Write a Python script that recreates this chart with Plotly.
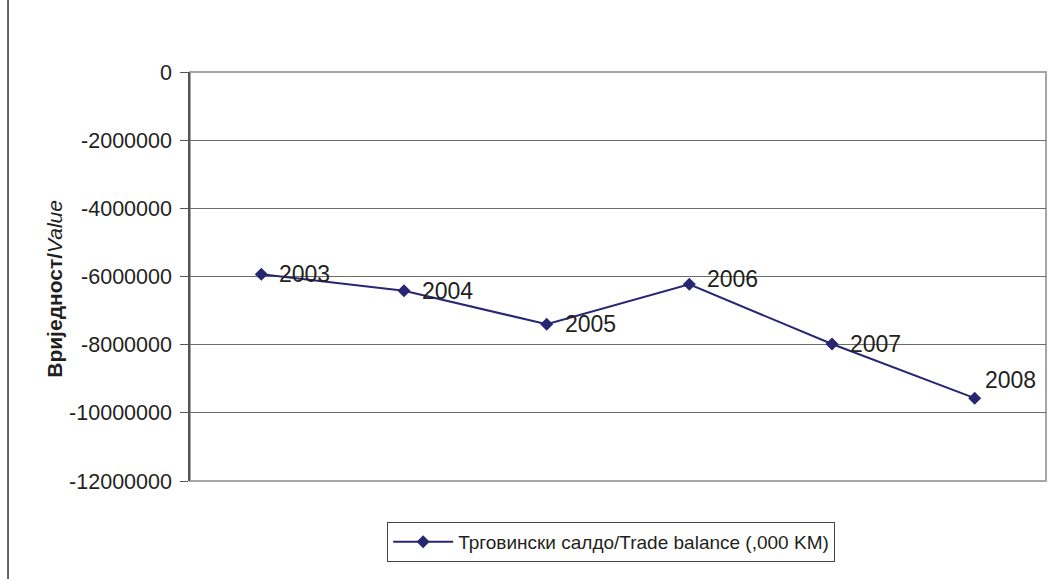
import plotly.graph_objects as go

years = ["2003", "2004", "2005", "2006", "2007", "2008"]
trade_balance = [-5935000, -6416000, -7400000, -6230000, -7980000, -9570000]
series_name = "Трговински салдо/Trade balance (,000 KM)"
y_tickvals = [0, -2000000, -4000000, -6000000, -8000000, -10000000, -12000000]
y_ticktext = ["0", "-2000000", "-4000000", "-6000000", "-8000000", "-10000000", "-12000000"]

# label offsets (style): pixel shifts of each data label
label_xshift = [16, 16, 16, 16, 16, 8]
label_yshift = [0, 0, 0, 5, 0, 18]

FONT = "Liberation Sans, Arial, sans-serif"
NAVY = "#262673"
TXT = "#231f20"

fig = go.Figure()
fig.add_trace(go.Scatter(
    x=years, y=trade_balance, mode="lines+markers", name=series_name,
    line=dict(color=NAVY, width=2),
    marker=dict(symbol="diamond", size=10, color=NAVY),
))

for i, (yr, v) in enumerate(zip(years, trade_balance)):
    fig.add_annotation(x=i, y=v, text=yr, showarrow=False, xanchor="left", yanchor="middle",
                       xshift=label_xshift[i], yshift=label_yshift[i],
                       font=dict(family=FONT, size=23, color=TXT))

fig.add_annotation(xref="paper", yref="paper", x=-0.1577, y=0.47, textangle=-90,
                   text="<b>Вриједност/</b><i>Value</i>", showarrow=False,
                   xanchor="center", yanchor="middle",
                   font=dict(family=FONT, size=21, color=TXT))

# plot-area border (light gray) and outer chart border on the left
fig.add_shape(type="rect", xref="paper", yref="paper", x0=0, y0=0, x1=1, y1=1,
              line=dict(color="#a6a6a6", width=2), layer="below")
fig.add_shape(type="line", xref="paper", yref="paper", x0=-0.2126, x1=-0.2126, y0=-0.4, y1=1.4,
              line=dict(color="#333333", width=1.5))

fig.update_layout(
    width=1058, height=579,
    margin=dict(l=190, r=12, t=72, b=97.5),
    paper_bgcolor="white", plot_bgcolor="white",
    font=dict(family=FONT, color=TXT),
    showlegend=True,
    legend=dict(orientation="h", x=0.492, xanchor="center", y=-0.1, yanchor="top",
                bordercolor="#444444", borderwidth=1, bgcolor="white", itemwidth=60,
                font=dict(family=FONT, size=19, color=TXT)),
    xaxis=dict(type="category", range=[-0.5, 5.5], showticklabels=False, showgrid=False,
               zeroline=False, ticks="", showline=False, fixedrange=True),
    yaxis=dict(range=[-12000000, 0], tickvals=y_tickvals, ticktext=y_ticktext,
               showgrid=True, gridcolor="#6b6b6b", gridwidth=1,
               zeroline=False, showline=True, linecolor="#555555", linewidth=1.5,
               ticks="outside", ticklen=8, tickcolor="#555555", ticklabelstandoff=4,
               tickfont=dict(family=FONT, size=21.5, color=TXT)),
)

fig.write_html("out.html", config={"displayModeBar": False},
               post_script="document.body.style.margin='0';document.body.style.overflow='hidden';")
